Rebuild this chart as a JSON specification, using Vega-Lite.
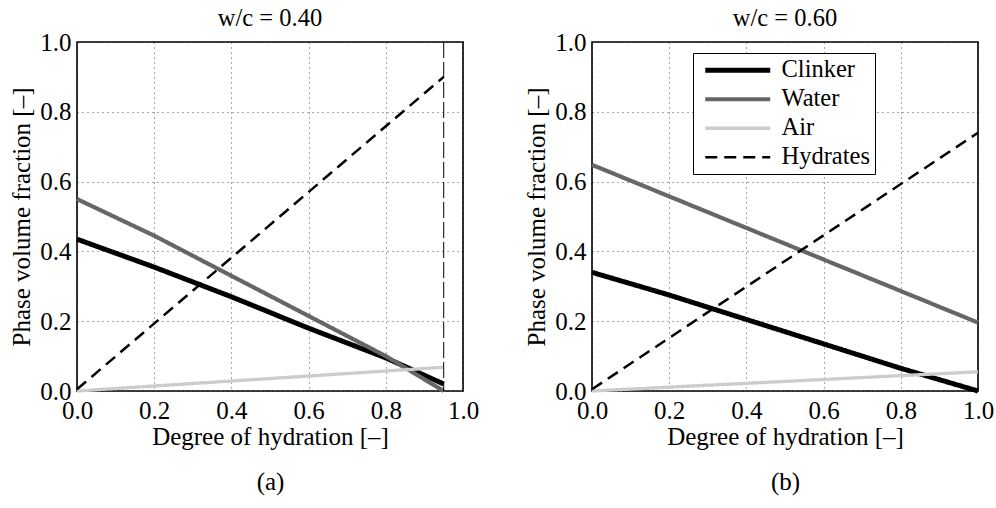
{
  "$schema": "https://vega.github.io/schema/vega-lite/v6.json",
  "padding": {"left": 8, "top": 4, "right": 4, "bottom": 4},
  "background": "white",
  "config": {
    "font": "Liberation Serif",
    "view": {"stroke": "black", "strokeWidth": 1.6},
    "axis": {
      "domain": false,
      "grid": true,
      "gridColor": "#000",
      "gridDash": [1, 4],
      "gridOpacity": 0.7,
      "gridWidth": 1,
      "ticks": false,
      "labelFlush": false,
      "labelOverlap": false,
      "labelFont": "Liberation Serif",
      "labelFontSize": 25,
      "labelColor": "black",
      "titleFont": "Liberation Serif",
      "titleFontSize": 25,
      "titleFontWeight": "normal",
      "titleColor": "black"
    },
    "title": {"font": "Liberation Serif", "fontSize": 24.5, "fontWeight": "normal", "color": "black", "offset": -1}
  },
  "datasets": {
    "a": [
      {"phase": "Clinker", "alpha": 0.0, "phi": 0.435},
      {"phase": "Clinker", "alpha": 0.2, "phi": 0.355},
      {"phase": "Clinker", "alpha": 0.4, "phi": 0.27},
      {"phase": "Clinker", "alpha": 0.6, "phi": 0.18},
      {"phase": "Clinker", "alpha": 0.8, "phi": 0.095},
      {"phase": "Clinker", "alpha": 0.95, "phi": 0.02},
      {"phase": "Water", "alpha": 0.0, "phi": 0.55},
      {"phase": "Water", "alpha": 0.2, "phi": 0.445},
      {"phase": "Water", "alpha": 0.4, "phi": 0.33},
      {"phase": "Water", "alpha": 0.6, "phi": 0.215},
      {"phase": "Water", "alpha": 0.8, "phi": 0.1},
      {"phase": "Water", "alpha": 0.95, "phi": 0.0},
      {"phase": "Air", "alpha": 0.0, "phi": 0.0},
      {"phase": "Air", "alpha": 0.95, "phi": 0.068},
      {"phase": "Hydrates", "alpha": 0.0, "phi": 0.005},
      {"phase": "Hydrates", "alpha": 0.95, "phi": 0.9}
    ],
    "b": [
      {"phase": "Clinker", "alpha": 0.0, "phi": 0.34},
      {"phase": "Clinker", "alpha": 0.2, "phi": 0.275},
      {"phase": "Clinker", "alpha": 0.4, "phi": 0.205},
      {"phase": "Clinker", "alpha": 0.6, "phi": 0.135},
      {"phase": "Clinker", "alpha": 0.8, "phi": 0.065},
      {"phase": "Clinker", "alpha": 1.0, "phi": 0.0},
      {"phase": "Water", "alpha": 0.0, "phi": 0.648},
      {"phase": "Water", "alpha": 1.0, "phi": 0.196},
      {"phase": "Air", "alpha": 0.0, "phi": 0.0},
      {"phase": "Air", "alpha": 1.0, "phi": 0.055},
      {"phase": "Hydrates", "alpha": 0.0, "phi": 0.005},
      {"phase": "Hydrates", "alpha": 1.0, "phi": 0.74}
    ],
    "vline": [{"alpha": 0.95}]
  },
  "resolve": {
    "scale": {"color": "independent", "strokeWidth": "independent", "strokeDash": "independent"},
    "legend": {"color": "independent", "strokeWidth": "independent", "strokeDash": "independent"}
  },
  "spacing": 43,
  "hconcat": [
    {
      "width": 386,
      "height": 349,
      "title": "w/c = 0.40",
      "layer": [
        {
          "data": {"name": "a"},
          "mark": {"type": "line", "strokeCap": "butt"},
          "encoding": {
            "x": {"field": "alpha", "type": "quantitative", "scale": {"domain": [0, 1], "nice": false},
                  "axis": {"values": [0, 0.2, 0.4, 0.6, 0.8, 1], "format": ".1f", "labelPadding": 7, "title": ["Degree of hydration [–]", "(a)"], "titleLineHeight": 45, "titlePadding": 1}},
            "y": {"field": "phi", "type": "quantitative", "scale": {"domain": [0, 1], "nice": false},
                  "axis": {"values": [0, 0.2, 0.4, 0.6, 0.8, 1], "format": ".1f", "labelPadding": 6, "title": "Phase volume fraction [–]", "titlePadding": 5}},
            "color": {"field": "phase", "type": "nominal", "scale": {"domain": ["Clinker", "Water", "Air", "Hydrates"], "range": ["#000000", "#666666", "#cccccc", "#000000"]}, "legend": null},
            "strokeWidth": {"field": "phase", "type": "nominal", "scale": {"domain": ["Clinker", "Water", "Air", "Hydrates"], "range": [5, 2.5, 3, 2.8]}, "legend": null},
            "strokeDash": {"field": "phase", "type": "nominal", "scale": {"domain": ["Clinker", "Water", "Air", "Hydrates"], "range": [[1, 0], [1, 0], [1, 0], [12, 7]]}, "legend": null}
          }
        },
        {
          "data": {"name": "vline"},
          "mark": {"type": "rule", "color": "black", "strokeWidth": 1, "strokeDash": [16, 4]},
          "encoding": {"x": {"field": "alpha", "type": "quantitative"}}
        }
      ]
    },
    {
      "width": 386,
      "height": 349,
      "title": "w/c = 0.60",
      "data": {"name": "b"},
      "mark": {"type": "line", "strokeCap": "butt"},
      "encoding": {
        "x": {"field": "alpha", "type": "quantitative", "scale": {"domain": [0, 1], "nice": false},
              "axis": {"values": [0, 0.2, 0.4, 0.6, 0.8, 1], "format": ".1f", "labelPadding": 7, "title": ["Degree of hydration [–]", "(b)"], "titleLineHeight": 45, "titlePadding": 1}},
        "y": {"field": "phi", "type": "quantitative", "scale": {"domain": [0, 1], "nice": false},
              "axis": {"values": [0, 0.2, 0.4, 0.6, 0.8, 1], "format": ".1f", "labelPadding": 6, "title": "Phase volume fraction [–]", "titlePadding": 5}},
        "color": {"field": "phase", "type": "nominal", "scale": {"domain": ["Clinker", "Water", "Air", "Hydrates"], "range": ["#000000", "#666666", "#cccccc", "#000000"]},
                  "legend": {"orient": "none", "legendX": 101, "legendY": 11, "title": null, "strokeColor": "black", "fillColor": "white", "padding": 5, "rowPadding": 4, "symbolType": "M-1,0H12", "symbolSize": 100, "labelOffset": 59, "labelFontSize": 24.5, "labelFont": "Liberation Serif", "labelColor": "black"}},
        "strokeWidth": {"field": "phase", "type": "nominal", "scale": {"domain": ["Clinker", "Water", "Air", "Hydrates"], "range": [5, 2.5, 3, 2.8]},
                  "legend": {"orient": "none", "legendX": 101, "legendY": 11, "title": null, "strokeColor": "black", "fillColor": "white", "padding": 5, "rowPadding": 4, "symbolType": "M-1,0H12", "symbolSize": 100, "labelOffset": 59, "labelFontSize": 24.5, "labelFont": "Liberation Serif", "labelColor": "black"}},
        "strokeDash": {"field": "phase", "type": "nominal", "scale": {"domain": ["Clinker", "Water", "Air", "Hydrates"], "range": [[1, 0], [1, 0], [1, 0], [12, 7]]},
                  "legend": {"orient": "none", "legendX": 101, "legendY": 11, "title": null, "strokeColor": "black", "fillColor": "white", "padding": 5, "rowPadding": 4, "symbolType": "M-1,0H12", "symbolSize": 100, "labelOffset": 59, "labelFontSize": 24.5, "labelFont": "Liberation Serif", "labelColor": "black"}}
      }
    }
  ]
}
